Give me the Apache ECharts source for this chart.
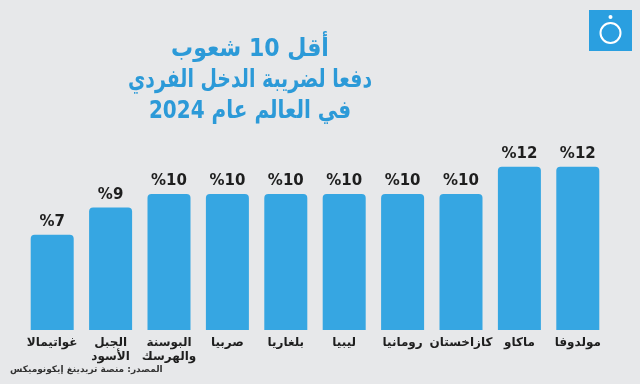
<!DOCTYPE html>
<html><head><meta charset="utf-8">
<script src="https://cdn.jsdelivr.net/npm/echarts@6/dist/echarts.min.js"></script>
<style>html,body{margin:0;padding:0;background:#e7e8ea}#c{width:640px;height:384px}</style>
</head><body><div id="c"></div>
<script>
var categories = ['غواتيمالا', 'الجبل\nالأسود', 'البوسنة\nوالهرسك', 'صربيا', 'بلغاريا', 'ليبيا', 'رومانيا', 'كازاخستان', 'ماكاو', 'مولدوفا'];
var values = [7, 9, 10, 10, 10, 10, 10, 10, 12, 12];
var titleLines = ['أقل 10 شعوب', 'دفعا لضريبة الدخل الفردي', 'في العالم عام 2024'];
var sourceText = 'المصدر: منصة تريدينغ إيكونوميكس';

var chart = echarts.init(document.getElementById('c'), null, {renderer: 'canvas'});
var font = "'DejaVu Sans', 'Noto Sans', sans-serif";
var tfont = "bold 25px 'DejaVu Sans Condensed', 'DejaVu Sans', sans-serif";
chart.setOption({
  backgroundColor: '#e7e8ea',
  animation: false,
  grid: {left: 23, right: 33, top: 58, bottom: 54},
  xAxis: {
    type: 'category', data: categories,
    axisLine: {show: false}, axisTick: {show: false},
    axisLabel: {color: '#1e1e1e', fontWeight: 'bold', fontSize: 12, fontFamily: font, lineHeight: 14, margin: 6, interval: 0}
  },
  yAxis: {type: 'value', min: 0, max: 20, show: false, splitLine: {show: false}},
  series: [{
    type: 'bar', data: values, barWidth: 43,
    itemStyle: {color: '#36a6e2', borderRadius: [4, 4, 0, 0]},
    label: {show: true, position: 'top', distance: 5, color: '#1e1e1e', fontWeight: 'bold', fontSize: 15, fontFamily: font,
      formatter: function (p) { return '%' + p.value; }}
  }],
  graphic: [
    {type: 'text', x: 250, y: 37, scaleX: 0.98, style: {text: titleLines[0], fill: '#2c9ad8', font: tfont, textAlign: 'center'}},
    {type: 'text', x: 250, y: 68, scaleX: 0.84, style: {text: titleLines[1], fill: '#2c9ad8', font: tfont, textAlign: 'center'}},
    {type: 'text', x: 250, y: 99, scaleX: 0.89, style: {text: titleLines[2], fill: '#2c9ad8', font: tfont, textAlign: 'center'}},
    {type: 'text', x: 10, y: 365, style: {text: sourceText, fill: '#333', font: "bold 9px " + font}},
    {type: 'rect', shape: {x: 589, y: 10, width: 43, height: 41}, style: {fill: '#2a9fe0'}},
    {type: 'circle', shape: {cx: 610.5, cy: 33, r: 10}, style: {fill: 'none', stroke: '#fff', lineWidth: 2}},
    {type: 'circle', shape: {cx: 610.5, cy: 17, r: 2}, style: {fill: '#fff'}}
  ]
});
</script></body></html>
